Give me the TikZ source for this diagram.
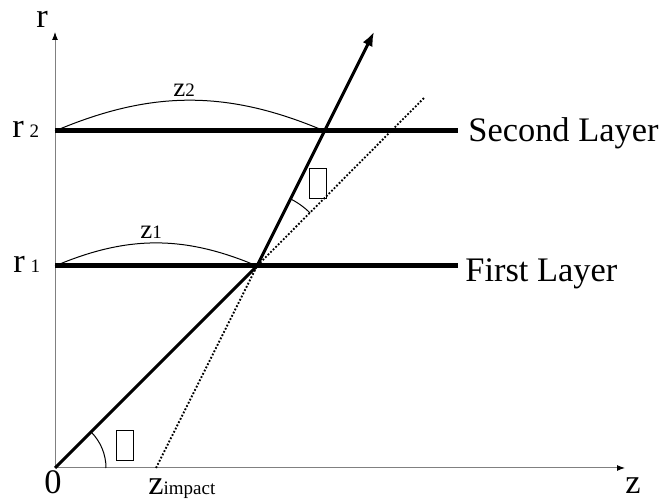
\documentclass[tikz,border=0pt]{standalone}
\usepackage{fontspec}
\setmainfont{Liberation Serif}
\usetikzlibrary{arrows.meta}

\newcommand{\sm}[1]{{\fontsize{9.5}{11}\selectfont #1}}

\begin{document}
\begin{tikzpicture}[x=0.5pt,y=0.5pt,
  lbl/.style={inner sep=0pt,font=\fontsize{17.2}{19}\selectfont},
  arclbl/.style={inner sep=0pt,font=\fontsize{13.5}{15}\selectfont},
  ax/.style={draw=gray,line width=0.5pt,-{Latex[length=4pt,width=3pt,black]}},
  layer/.style={line width=2.5pt},
  trk/.style={line width=1.5pt},
  ext/.style={line width=0.9pt,dash pattern=on 0.9pt off 0.9pt},
  thin/.style={line width=0.5pt},
  gap/.style={draw,line width=0.5pt,minimum width=8.5pt,minimum height=15pt,inner sep=0pt}]
\useasboundingbox (0,0) rectangle (666,502);
\coordinate (o) at (55,34);
\coordinate (rtop) at (55,470);
\coordinate (ztop) at (625,34);
\coordinate (l1a) at (55,236);
\coordinate (l1b) at (458,236);
\coordinate (l2a) at (55,371);
\coordinate (l2b) at (458,371);
\coordinate (k1) at (257,236);
\coordinate (k2) at (324.5,371);
\coordinate (tip) at (374,470);
\coordinate (zi) at (156,34);
\coordinate (far) at (424,404);
\draw[ax] (o) -- (rtop);
\draw[ax] (o) -- (ztop);
\draw[layer] (l1a) -- (l1b);
\draw[layer] (l2a) -- (l2b);
\draw[ext] (zi) -- (k1) -- (far);
\draw[trk,-{Latex[length=7pt,width=5.5pt]}] (o) -- (k1) -- (tip);
\draw[thin] (l1a) to[bend left=23] (k1);
\draw[thin] (l2a) to[bend left=23] (k2);
\draw[thin] ([shift={(51,0)}]o) arc[start angle=0,end angle=45,radius=51];
\draw[thin] ([shift={(45:75)}]k1) arc[start angle=45,end angle=63.4,radius=75];
\node[gap] (g1) at (124.5,56) {};
\node[gap] (g2) at (317.5,318) {};
\node[lbl,anchor=base] (rl) at (42,474) {r};
\node[lbl,anchor=base west] (r2l) at (12,364) {r\,\sm{2}};
\node[lbl,anchor=base west] (r1l) at (13,229) {r\,\sm{1}};
\node[lbl,anchor=base] (zero) at (53,8) {0};
\node[lbl,anchor=base] (zl) at (633,8) {z};
\node[lbl,anchor=base west] (zil) at (148,7) {z\sm{impact}};
\node[arclbl,anchor=base west] (z2l) at (173,405) {z\sm{2}};
\node[arclbl,anchor=base west] (z1l) at (140,263) {z\sm{1}};
\node[lbl,anchor=base west] (s2) at (468,360) {Second Layer};
\node[lbl,anchor=base west] (s1) at (465,220) {First Layer};
\end{tikzpicture}
\end{document}
